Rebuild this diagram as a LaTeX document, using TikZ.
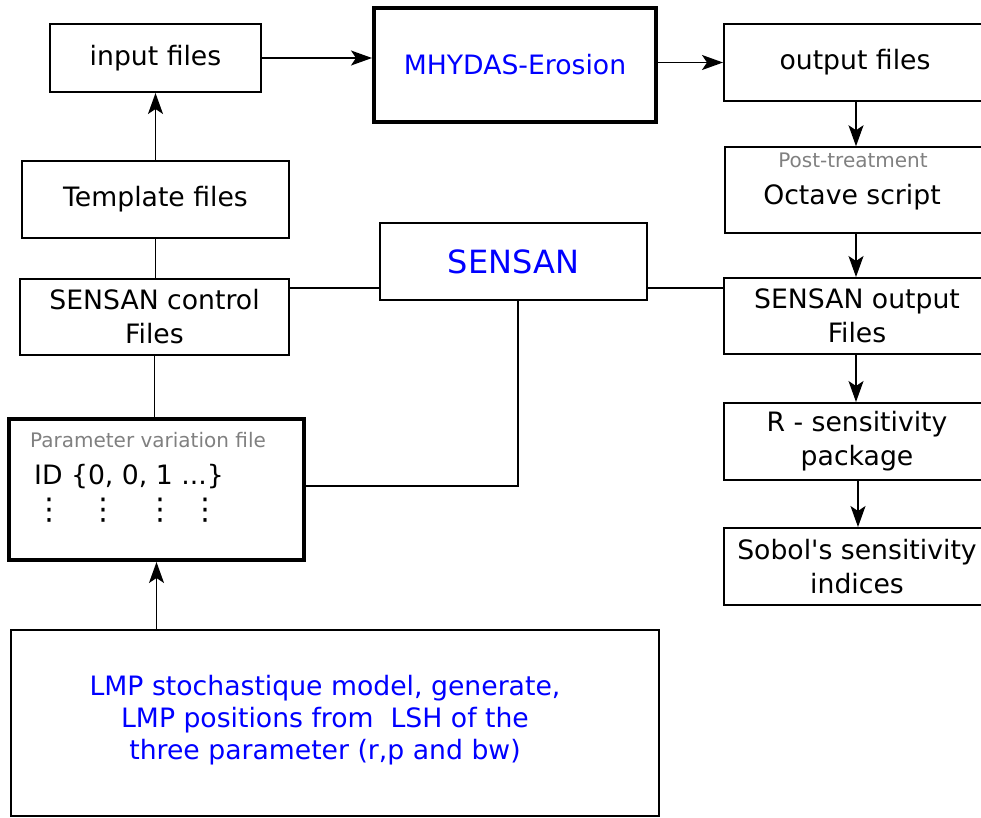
\documentclass[tikz,border=0pt]{standalone}
\usepackage{fontspec}
\setmainfont{DejaVu Sans}
\usetikzlibrary{arrows.meta}
\begin{document}
\begin{tikzpicture}[x=1pt,y=-1pt,
  box/.style={draw,line width=2pt,inner sep=0pt,align=center,font=\fontsize{26.67}{34}\selectfont},
  boldbox/.style={box,line width=4pt},
  conn/.style={line width=1.5pt},
  arr/.style={conn,-{Stealth[length=21pt,width=15pt,inset=5pt]}},
  hint/.style={text=gray,font=\fontsize{20}{24}\selectfont,inner sep=0pt},
  lbl/.style={inner sep=0pt,align=center,font=\fontsize{26.67}{34}\selectfont},
  vdotsty/.style={inner sep=0pt,font=\fontsize{30}{34}\selectfont},
  bluetext/.style={text={rgb,255:red,0;green,0;blue,255}},
]
\useasboundingbox (0,0) rectangle (981,817);

% left column
\node[box,minimum width=211pt,minimum height=68pt] (input) at (155.5,58) {input files};
\node[box,minimum width=267pt,minimum height=77pt] (template) at (155.5,199.5) {Template files};
\node[box,minimum width=269pt,minimum height=76pt] (control) at (154.5,317) {SENSAN control\\Files};
\node[boldbox,minimum width=295pt,minimum height=141pt] (param) at (156.5,489.5) {};
\node[hint,anchor=west] (paramlbl) at (30,440) {Parameter variation file};
\node[lbl,anchor=west] (paramid) at (34,477) {ID \{0, 0, 1 ...\}};
\node[vdotsty] (dotsa) at (49,510) {⋮};
\node[vdotsty] (dotsb) at (103,510) {⋮};
\node[vdotsty] (dotsc) at (160,510) {⋮};
\node[vdotsty] (dotsd) at (205,510) {⋮};
\node[box,minimum width=648pt,minimum height=186pt] (lmp) at (335,723) {};
\node[lbl,bluetext,font=\fontsize{26.67}{32}\selectfont] (lmptext) at (325,720.5)
  {LMP stochastique model, generate,\\LMP positions from~~LSH of the\\three parameter (r,p and bw)};

% middle
\node[boldbox,bluetext,minimum width=282pt,minimum height=114pt] (mhydas) at (515,65) {MHYDAS-Erosion};
\node[box,bluetext,font=\fontsize{32}{38}\selectfont,minimum width=267pt,minimum height=77pt] (sensan) at (513.5,261.5) {SENSAN};

% right column
\node[box,minimum width=266pt,minimum height=77pt] (output) at (857,62.5) {\hspace*{-2pt}output files\hspace*{2pt}};
\node[box,line width=1.5pt,minimum width=265pt,minimum height=86pt] (octave) at (857.5,190) {};
\node[hint] (posttr) at (853,160) {Post-treatment};
\node[lbl] (octlbl) at (852,197) {Octave script};
\node[box,minimum width=266pt,minimum height=76pt] (sout) at (857,316) {SENSAN output\\Files};
\node[box,minimum width=266pt,minimum height=77pt] (rpkg) at (857,441.5) {R - sensitivity\\package};
\node[box,minimum width=266pt,minimum height=77pt] (sobol) at (857,566.5) {Sobol\textquotesingle s sensitivity\\indices};

% connectors
\coordinate (sj) at ([yshift=-26.5pt]sensan.center);
\draw[arr] (input.east) -- (input.east -| mhydas.west);
\draw[arr] (output.west -| mhydas.east) -- (output.west);
\draw[arr] (template.north) -- (input.south);
\draw[conn] (template.south) -- (template.south |- control.north);
\draw[conn] (control.east |- sj) -- (sensan.west |- sj);
\draw[conn] (sensan.east |- sj) -- (sout.west |- sj);
\draw[conn] (control.south) -- (control.south |- param.north);
\draw[conn] ([xshift=4.5pt]sensan.south) |- ([yshift=3.5pt]param.east);
\draw[arr] ([xshift=-1pt]output.south) -- ([xshift=-1pt]output.south |- octave.north);
\draw[arr] ([xshift=-1.5pt]octave.south) -- ([xshift=-1.5pt]octave.south |- sout.north);
\draw[arr] ([xshift=-1pt]sout.south) -- ([xshift=-1pt]sout.south |- rpkg.north);
\draw[arr] ([xshift=1pt]rpkg.south) -- ([xshift=1pt]rpkg.south |- sobol.north);
\draw[arr] (lmp.north -| param.south) -- (param.south);
\end{tikzpicture}
\end{document}
